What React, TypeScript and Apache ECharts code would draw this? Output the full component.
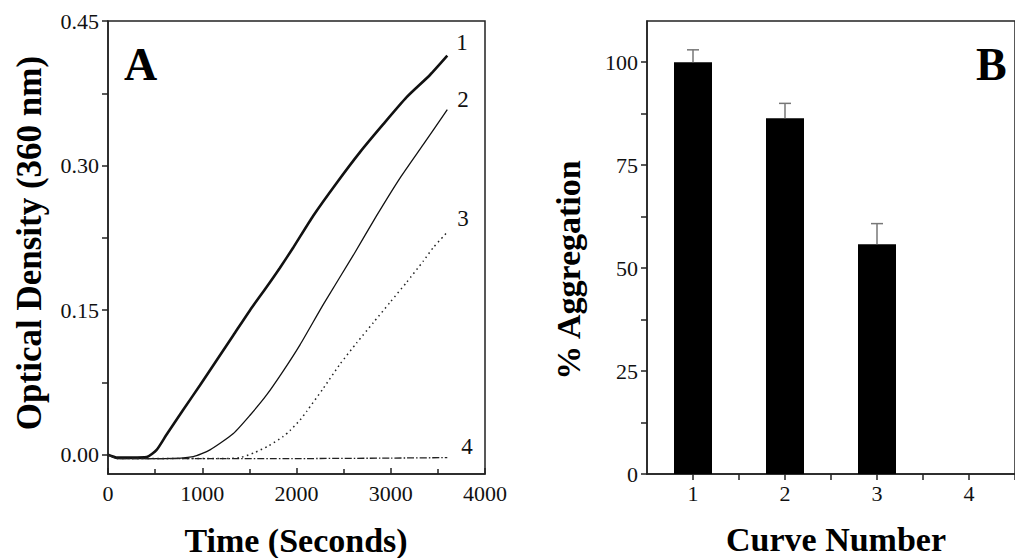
import React, { useEffect, useRef } from "react";
import * as echarts from "echarts";

// Panel A: optical density (360 nm) vs time (s)
const time1 = [0, 100, 250, 410, 516, 622, 800, 976, 1153, 1330, 1507, 1683, 1825, 1966, 2178, 2426, 2674, 2921, 3169, 3416, 3600];
const od1 = [0, -0.003, -0.003, -0.0025, 0.005, 0.021, 0.047, 0.072, 0.098, 0.124, 0.15, 0.174, 0.194, 0.215, 0.248, 0.282, 0.314, 0.343, 0.371, 0.394, 0.414];

const time2 = [0, 100, 300, 600, 905, 1082, 1330, 1507, 1683, 1860, 2037, 2285, 2603, 2850, 3098, 3346, 3600];
const od2 = [0, -0.004, -0.004, -0.004, -0.002, 0.005, 0.022, 0.041, 0.062, 0.087, 0.114, 0.156, 0.207, 0.248, 0.287, 0.322, 0.358];

const time3 = [0, 100, 600, 1200, 1400, 1550, 1700, 1860, 1930, 2037, 2108, 2285, 2462, 2638, 2815, 2992, 3169, 3346, 3452, 3600];
const od3 = [0, -0.004, -0.004, -0.004, -0.003, 0.002, 0.009, 0.019, 0.025, 0.036, 0.045, 0.069, 0.094, 0.116, 0.137, 0.158, 0.179, 0.201, 0.215, 0.231];

const time4 = [0, 100, 1000, 2000, 3000, 3600];
const od4 = [0, -0.004, -0.004, -0.004, -0.0035, -0.003];

const curveLabels = ["1", "2", "3", "4"];

// Panel B: % aggregation per curve
const curveNumbers = [1, 2, 3, 4];
const aggregation = [100, 86.4, 55.8, 0];
const aggregationErr = [3, 3.6, 5, 0];

// Tick values
const timeTicks = [0, 1000, 2000, 3000, 4000];
const odLabelTicks = [0, 0.15, 0.3, 0.45];
const odAllTicks = [0, 0.075, 0.15, 0.225, 0.3, 0.375, 0.45];
const curveLabelTicks = [1, 2, 3, 4];
const curveAllTicks = [1, 1.5, 2, 2.5, 3, 3.5, 4, 4.5];
const aggLabelTicks = [0, 25, 50, 75, 100];
const aggAllTicks = [0, 12.5, 25, 37.5, 50, 62.5, 75, 87.5, 100];

const FONT = '"Liberation Serif", "Times New Roman", serif';
const AXIS = "#222";

function pairs(t: number[], v: number[]) {
  return t.map((x, i) => [x, v[i]]);
}

export default function App() {
  const ref = useRef<HTMLDivElement>(null);

  useEffect(() => {
    if (!ref.current) return;
    const chart = echarts.init(ref.current, null, { renderer: "svg" });

    const axisLine = { show: true, onZero: false, lineStyle: { color: AXIS, width: 1.5 } };
    const labelStyle = { fontFamily: FONT, fontSize: 22, color: "#111" };

    chart.setOption({
      animation: false,
      backgroundColor: "#ffffff",
      grid: [
        { left: 108, top: 21, width: 377, height: 453, show: true, borderColor: AXIS, borderWidth: 1.5, backgroundColor: "transparent" },
        { left: 647, top: 21, width: 378, height: 453, show: true, borderColor: AXIS, borderWidth: 1.5, backgroundColor: "transparent" },
      ],
      xAxis: [
        {
          type: "value",
          gridIndex: 0,
          min: 0,
          max: 4000,
          interval: 1000,
          axisLine,
          axisTick: { show: true, inside: true, length: 6, lineStyle: { color: AXIS, width: 1.5 } },
          minorTick: { show: true, splitNumber: 2, length: 5, lineStyle: { color: AXIS, width: 1.5 } },
          splitLine: { show: false },
          axisLabel: { ...labelStyle, margin: 8, customValues: timeTicks, formatter: (v: number) => String(v) },
        },
        {
          type: "value",
          gridIndex: 1,
          min: 0.5,
          max: 4.5,
          axisLine,
          axisTick: { show: true, inside: false, length: 6, customValues: curveAllTicks, lineStyle: { color: AXIS, width: 1.5 } },
          splitLine: { show: false },
          axisLabel: { ...labelStyle, margin: 8, customValues: curveLabelTicks, formatter: (v: number) => String(v) },
        },
      ],
      yAxis: [
        {
          type: "value",
          gridIndex: 0,
          min: -0.02,
          max: 0.45,
          axisLine,
          axisTick: { show: true, inside: false, length: 6, customValues: odAllTicks, lineStyle: { color: AXIS, width: 1.5 } },
          splitLine: { show: false },
          axisLabel: { ...labelStyle, margin: 9, customValues: odLabelTicks, formatter: (v: number) => v.toFixed(2) },
        },
        {
          type: "value",
          gridIndex: 1,
          min: 0,
          max: 110,
          axisLine,
          axisTick: { show: true, inside: false, length: 6, customValues: aggAllTicks, lineStyle: { color: AXIS, width: 1.5 } },
          splitLine: { show: false },
          axisLabel: { ...labelStyle, margin: 9, customValues: aggLabelTicks, formatter: (v: number) => String(v) },
        },
      ],
      series: [
        {
          type: "line", xAxisIndex: 0, yAxisIndex: 0, data: pairs(time1, od1),
          showSymbol: false, smooth: 0.2,
          lineStyle: { color: "#111", width: 2.6 },
        },
        {
          type: "line", xAxisIndex: 0, yAxisIndex: 0, data: pairs(time2, od2),
          showSymbol: false, smooth: 0.2,
          lineStyle: { color: "#111", width: 1.3 },
        },
        {
          type: "line", xAxisIndex: 0, yAxisIndex: 0, data: pairs(time3, od3),
          showSymbol: false, smooth: 0.2,
          lineStyle: { color: "#222", width: 1.5, type: [1.5, 3.5] },
        },
        {
          type: "line", xAxisIndex: 0, yAxisIndex: 0, data: pairs(time4, od4),
          showSymbol: false, smooth: 0.2,
          lineStyle: { color: "#222", width: 1.3, type: [7, 2, 1.5, 2] },
        },
        {
          type: "bar", xAxisIndex: 1, yAxisIndex: 1,
          data: curveNumbers.map((c, i) => [c, aggregation[i]]),
          barWidth: 38,
          itemStyle: { color: "#000" },
        },
        {
          type: "custom", xAxisIndex: 1, yAxisIndex: 1, z: 5,
          data: curveNumbers.map((c, i) => [c, aggregation[i], aggregationErr[i]]),
          renderItem: (params: any, api: any) => {
            const x = api.value(0);
            const y = api.value(1);
            const e = api.value(2);
            if (!e) return null;
            const base = api.coord([x, y]);
            const top = api.coord([x, y + e]);
            const style = { stroke: "#777", lineWidth: 1.5 };
            return {
              type: "group",
              children: [
                { type: "line", shape: { x1: base[0], y1: base[1], x2: top[0], y2: top[1] }, style },
                { type: "line", shape: { x1: top[0] - 6, y1: top[1], x2: top[0] + 6, y2: top[1] }, style },
              ],
            };
          },
        },
      ],
      graphic: [
        { type: "text", x: 124, y: 64, style: { text: "A", font: `bold 46px ${FONT}`, fill: "#000", textAlign: "left", textVerticalAlign: "middle" } },
        { type: "text", x: 976, y: 64, style: { text: "B", font: `bold 46px ${FONT}`, fill: "#000", textAlign: "left", textVerticalAlign: "middle" } },
        { type: "text", x: 462, y: 42, style: { text: curveLabels[0], font: `23px ${FONT}`, fill: "#111", textAlign: "center", textVerticalAlign: "middle" } },
        { type: "text", x: 463, y: 99, style: { text: curveLabels[1], font: `23px ${FONT}`, fill: "#111", textAlign: "center", textVerticalAlign: "middle" } },
        { type: "text", x: 463, y: 218, style: { text: curveLabels[2], font: `23px ${FONT}`, fill: "#111", textAlign: "center", textVerticalAlign: "middle" } },
        { type: "text", x: 467, y: 446, style: { text: curveLabels[3], font: `23px ${FONT}`, fill: "#111", textAlign: "center", textVerticalAlign: "middle" } },
        { type: "text", x: 296, y: 540, style: { text: "Time (Seconds)", font: `bold 34px ${FONT}`, fill: "#000", textAlign: "center", textVerticalAlign: "middle" } },
        { type: "text", x: 836, y: 539, style: { text: "Curve Number", font: `bold 34px ${FONT}`, fill: "#000", textAlign: "center", textVerticalAlign: "middle" } },
        { type: "text", x: 29, y: 243, rotation: Math.PI / 2, style: { text: "Optical Density (360 nm)", font: `bold 35px ${FONT}`, fill: "#000", textAlign: "center", textVerticalAlign: "middle" } },
        { type: "text", x: 568, y: 270, rotation: Math.PI / 2, style: { text: "% Aggregation", font: `bold 34px ${FONT}`, fill: "#000", textAlign: "center", textVerticalAlign: "middle" } },
      ],
    });

    return () => chart.dispose();
  }, []);

  return (
    <div
      ref={ref}
      style={{ position: "fixed", left: 0, top: 0, width: 1015, height: 558, background: "#fff" }}
    />
  );
}
